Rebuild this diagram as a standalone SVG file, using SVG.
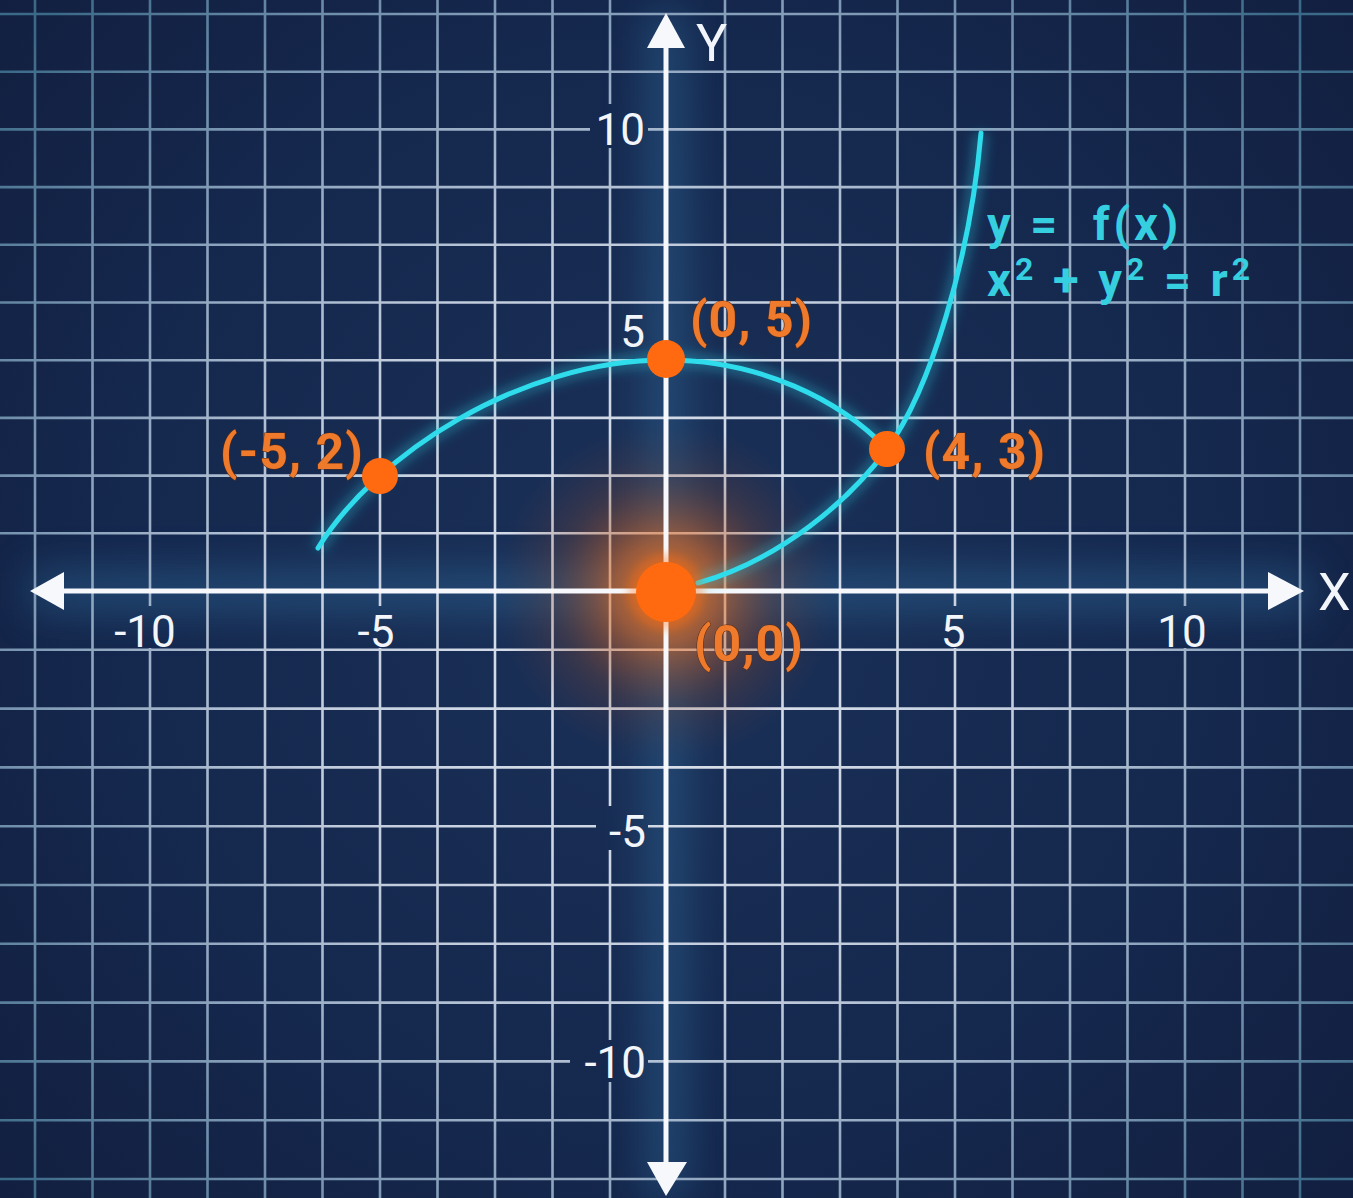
<svg xmlns="http://www.w3.org/2000/svg" width="1353" height="1198" viewBox="0 0 1353 1198">
<defs>
<style>
.tick{font-family:Roboto,"Liberation Sans",sans-serif;font-size:44px;fill:#f2f5fa;}
.axlbl{font-family:Roboto,"Liberation Sans",sans-serif;font-size:52px;fill:#f2f5fa;}
.pt{fill:#ff6a10;}
.ptlbl{font-family:Roboto,"Liberation Sans",sans-serif;font-weight:bold;font-size:50px;letter-spacing:1px;fill:#ef7a2c;stroke:#5a2c14;stroke-width:1px;paint-order:stroke;}
.eq{font-family:Roboto,"Liberation Sans",sans-serif;font-weight:bold;font-size:47px;letter-spacing:4px;fill:#35cfe0;}
.sup{font-size:32px;}
.curve{fill:none;stroke:#2fdcec;stroke-width:5;stroke-linecap:round;}
.curveglow{fill:none;stroke:#2fc8e0;stroke-width:14;stroke-opacity:0.35;filter:url(#blur6);}
.axis{stroke:#f6f8fb;stroke-width:5;fill:none;}
</style>
<radialGradient id="bgGrad" gradientUnits="userSpaceOnUse" cx="667" cy="591" r="900">
<stop offset="0" stop-color="#1b3158"/>
<stop offset="0.6" stop-color="#15284e"/>
<stop offset="1" stop-color="#121f40"/>
</radialGradient>
<radialGradient id="gridGrad" gradientUnits="userSpaceOnUse" cx="667" cy="620" r="860">
<stop offset="0" stop-color="#e4e9f2"/>
<stop offset="0.45" stop-color="#c0cbdc"/>
<stop offset="0.75" stop-color="#7d98b4"/>
<stop offset="1" stop-color="#3b6a88"/>
</radialGradient>
<radialGradient id="originGlow" cx="0.5" cy="0.5" r="0.5">
<stop offset="0" stop-color="#ff7a1a" stop-opacity="0.9"/>
<stop offset="0.3" stop-color="#e86e22" stop-opacity="0.6"/>
<stop offset="0.65" stop-color="#8a4a30" stop-opacity="0.28"/>
<stop offset="1" stop-color="#5a3a40" stop-opacity="0"/>
</radialGradient>
<filter id="blur6" x="-20%" y="-20%" width="140%" height="140%"><feGaussianBlur stdDeviation="6"/></filter>
<filter id="blur20" x="-50%" y="-50%" width="200%" height="200%"><feGaussianBlur stdDeviation="20"/></filter>
<filter id="blur4" x="-20%" y="-20%" width="140%" height="140%"><feGaussianBlur stdDeviation="4"/></filter>
<mask id="gridMask" maskUnits="userSpaceOnUse" x="0" y="0" width="1353" height="1198">
<rect width="1353" height="1198" fill="#fff"/>
<g fill="#000">
<rect x="106" y="606" width="80" height="42"/>
<rect x="352" y="606" width="50" height="42"/>
<rect x="938" y="606" width="32" height="42"/>
<rect x="1154" y="606" width="58" height="42"/>
<rect x="590" y="104" width="58" height="44"/>
<rect x="616" y="310" width="32" height="38"/>
<rect x="596" y="806" width="52" height="44"/>
<rect x="570" y="1040" width="78" height="42"/>
</g>
</mask>
</defs>

<rect width="1353" height="1198" fill="url(#bgGrad)"/>

<g id="axis-haze" filter="url(#blur20)" opacity="0.5">
<line x1="30" y1="591" x2="1310" y2="591" stroke="#2e6a9a" stroke-width="40"/>
<line x1="666" y1="10" x2="666" y2="1198" stroke="#2e6a9a" stroke-width="40"/>
</g>

<g id="grid" fill="none" stroke="url(#gridGrad)" stroke-width="2.6" mask="url(#gridMask)">
<path d="M35,0V1198 M92.5,0V1198 M150,0V1198 M207.5,0V1198 M265,0V1198 M322.5,0V1198 M380,0V1198 M437.5,0V1198 M495,0V1198 M552.5,0V1198 M610,0V1198 M725,0V1198 M782.5,0V1198 M840,0V1198 M897.5,0V1198 M955,0V1198 M1012.5,0V1198 M1070,0V1198 M1127.5,0V1198 M1185,0V1198 M1242.5,0V1198 M1300,0V1198"/>
<path d="M0,14H1353 M0,71.7H1353 M0,129.4H1353 M0,187.1H1353 M0,244.8H1353 M0,302.5H1353 M0,360.2H1353 M0,417.9H1353 M0,475.6H1353 M0,533.3H1353 M0,649.8H1353 M0,708.6H1353 M0,767.4H1353 M0,826.2H1353 M0,885H1353 M0,943.8H1353 M0,1002.6H1353 M0,1061.4H1353 M0,1120.2H1353 M0,1179H1353"/>
</g>

<g id="origin-glow">
<circle cx="666" cy="592" r="170" fill="url(#originGlow)"/>
</g>

<g id="axes">
<line class="axis" x1="60" y1="591" x2="1272" y2="591"/>
<polygon points="30,591 64,572 64,610" fill="#f6f8fb"/>
<polygon points="1304,591 1268,572 1268,610" fill="#f6f8fb"/>
<line class="axis" x1="666" y1="44" x2="666" y2="1166"/>
<polygon points="666,13 647,48 685,48" fill="#f6f8fb"/>
<polygon points="666,1196 647,1162 687,1162" fill="#f6f8fb"/>
<text class="axlbl" x="1318" y="610">X</text>
<text class="axlbl" x="696" y="61">Y</text>
</g>

<g id="tick-labels">
<text class="tick" x="145" y="647" text-anchor="middle">-10</text>
<text class="tick" x="376" y="647" text-anchor="middle">-5</text>
<text class="tick" x="953" y="647" text-anchor="middle">5</text>
<text class="tick" x="1182" y="647" text-anchor="middle">10</text>
<text class="tick" x="645" y="145" text-anchor="end">10</text>
<text class="tick" x="645" y="347" text-anchor="end">5</text>
<text class="tick" x="646" y="847" text-anchor="end">-5</text>
<text class="tick" x="646" y="1078" text-anchor="end">-10</text>
</g>

<g id="connectors">
<path class="curveglow" d="M318,548 C375,455 520,360 666,360 C760,360 840,400 887,449"/>
<path class="curveglow" d="M698,583 C780,560 850,500 887,449 C930,390 970,260 981,133"/>
<path id="curve-arc" class="curve" d="M318,548 C375,455 520,360 666,360 C760,360 840,400 887,449"/>
<path id="curve-rise" class="curve" d="M698,583 C780,560 850,500 887,449 C930,390 970,260 981,133"/>
</g>

<g id="equation">
<text class="eq" x="987" y="240" xml:space="preserve">y =  f(x)</text>
<text class="eq" x="987" y="296">x<tspan class="sup" dy="-16">2</tspan><tspan dy="16"> + y</tspan><tspan class="sup" dy="-16">2</tspan><tspan dy="16"> = r</tspan><tspan class="sup" dy="-16">2</tspan></text>
</g>

<g id="point-origin">
<circle cx="666" cy="592" r="38" fill="#ff6a10" opacity="0.35" filter="url(#blur4)"/>
<circle class="pt" cx="666" cy="592" r="30"/>
<text class="ptlbl" x="694" y="661">(0,0)</text>
</g>
<g id="point-m5-2">
<circle class="pt" cx="380" cy="476" r="18"/>
<text class="ptlbl" x="220" y="469">(-5, 2)</text>
</g>
<g id="point-0-5">
<circle class="pt" cx="666" cy="359" r="19"/>
<text class="ptlbl" x="690" y="337">(0, 5)</text>
</g>
<g id="point-4-3">
<circle class="pt" cx="887" cy="449" r="18"/>
<text class="ptlbl" x="923" y="469">(4, 3)</text>
</g>
</svg>
